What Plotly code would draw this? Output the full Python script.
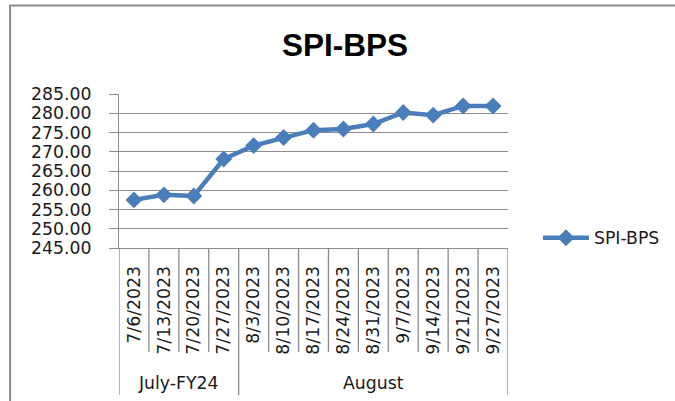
import plotly.graph_objects as go

dates = ["7/6/2023", "7/13/2023", "7/20/2023", "7/27/2023", "8/3/2023", "8/10/2023",
         "8/17/2023", "8/24/2023", "8/31/2023", "9/7/2023", "9/14/2023", "9/21/2023", "9/27/2023"]
values = [257.5, 258.8, 258.5, 268.1, 271.6, 273.7, 275.6, 275.9, 277.2, 280.2, 279.5, 281.9, 281.9]
groups = ["July-FY24", "August"]
group_sizes = [4, 9]
y_ticks = [245, 250, 255, 260, 265, 270, 275, 280, 285]

GRID = "#8c8c8c"
BLUE = "#4a7ebb"
FONT = "DejaVu Sans"
FS = 17.3

fig = go.Figure()
fig.add_trace(go.Scatter(
    x=dates, y=values, mode="lines+markers", name="SPI-BPS",
    line=dict(color=BLUE, width=4.5),
    marker=dict(symbol="diamond", size=13, color=BLUE),
))

shapes = []
n = len(dates)
for i in range(n + 1):
    shapes.append(dict(type="line", xref="x", yref="paper", x0=i - 0.5, x1=i - 0.5,
                       y0=0, y1=-0.675, line=dict(color=GRID, width=1.3)))
annotations = []
start = 0
bounds = [0]
for g, s in zip(groups, group_sizes):
    annotations.append(dict(text=g, x=start + (s - 1) / 2, xref="x", y=-0.877, yref="paper",
                            showarrow=False, font=dict(family=FONT, size=FS, color="#1a1a1a"),
                            xanchor="center", yanchor="middle"))
    start += s
    bounds.append(start)
for b in bounds:
    shapes.append(dict(type="line", xref="x", yref="paper", x0=b - 0.5, x1=b - 0.5,
                       y0=-0.675, y1=-0.955, line=dict(color=GRID, width=1.3)))
# chart frame (left and top edges)
shapes.append(dict(type="line", xref="paper", yref="paper", x0=-0.280, x1=-0.280,
                   y0=1.575, y1=-1.1, line=dict(color="#8a8a8a", width=2)))
shapes.append(dict(type="line", xref="paper", yref="paper", x0=-0.283, x1=1.5,
                   y0=1.575, y1=1.575, line=dict(color="#8a8a8a", width=2)))

fig.update_layout(
    width=675, height=401,
    margin=dict(l=119, r=167, t=94, b=153, autoexpand=False),
    paper_bgcolor="white", plot_bgcolor="white",
    title=dict(text="<b>SPI-BPS</b>", x=0.511, xanchor="center", y=0.888, yanchor="middle",
               font=dict(family="Liberation Sans", size=31.5, color="black")),
    font=dict(family=FONT, size=FS, color="#1a1a1a"),
    showlegend=True,
    legend=dict(x=1.077, xanchor="left", y=0.065, yanchor="middle", itemwidth=46,
                font=dict(family=FONT, size=FS, color="#1a1a1a"),
                bgcolor="rgba(0,0,0,0)"),
    shapes=shapes,
    annotations=annotations,
)
fig.update_xaxes(type="category", tickangle=-90, showgrid=False, showline=True,
                 linecolor=GRID, linewidth=1.3, ticks="", ticklabelstandoff=10,
                 range=[-0.5, n - 0.5], tickfont=dict(family=FONT, size=FS))
fig.update_yaxes(range=[245, 285], tickvals=y_ticks, tickformat=".2f", showgrid=True,
                 gridcolor=GRID, gridwidth=1.3, showline=True, linecolor=GRID, linewidth=1.3,
                 ticks="outside", ticklen=9, tickcolor=GRID, tickwidth=1.3,
                 ticklabelstandoff=14, zeroline=False, tickfont=dict(family=FONT, size=FS))

fig.write_html("out.html", config={"displayModeBar": False},
               post_script="document.body.style.margin='0';")
